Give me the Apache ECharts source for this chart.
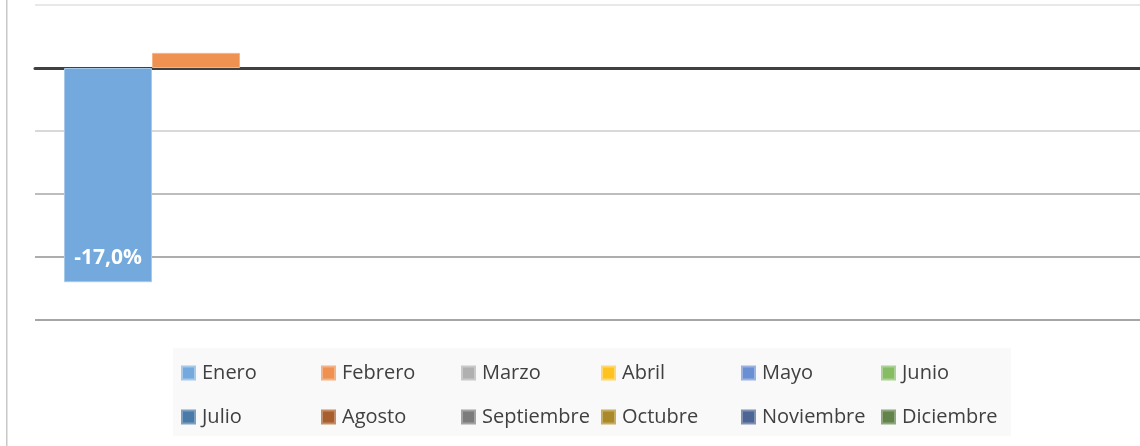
<!DOCTYPE html>
<html>
<head>
<meta charset="utf-8">
<script src="https://cdn.jsdelivr.net/npm/echarts@6/dist/echarts.min.js"></script>
<style>
  html, body { margin: 0; padding: 0; background: #fff; }
  #main { width: 1140px; height: 446px; }
</style>
</head>
<body>
<div id="main"></div>
<script>
// meses (una serie por mes, una sola categoría)
var meses = ['Enero','Febrero','Marzo','Abril','Mayo','Junio','Julio','Agosto','Septiembre','Octubre','Noviembre','Diciembre'];
var valores = [-17.0, 1.2, null, null, null, null, null, null, null, null, null, null];
var colores = ['#73a9dc','#ef9150','#b0b0b0','#ffc31f','#6a8fd3','#86bc63','#4a7aa8','#a85f2f','#7c7c7c','#a88a2a','#4c6594','#62844a'];
var bordes  = ['#a6c9ea','#f4b386','#c9c9c9','#ffd870','#9ab3e2','#acd196','#7f9fc0','#c48d68','#a3a3a3','#c5ad64','#8191b2','#8fa77f'];
var ticksY = { min: -20, max: 5, interval: 5 };

var myChart = echarts.init(document.getElementById('main'));

var series = meses.map(function (m, i) {
  return {
    name: m,
    type: 'bar',
    barWidth: 88,
    barGap: '0%',
    data: [valores[i]],
    itemStyle: { color: colores[i], borderColor: bordes[i], borderWidth: 1 },
    label: {
      show: i === 0,
      position: 'insideBottom',
      distance: 14,
      color: '#fff',
      fontWeight: 'bold',
      fontSize: 21,
      fontFamily: 'Open Sans',
      formatter: function (p) { return p.value.toFixed(1).replace('.', ',') + '%'; }
    }
  };
});

// una leyenda por mes: 6 columnas de 140 px, 2 filas
var leyendas = meses.map(function (m, i) {
  return {
    data: [m],
    left: 181 + (i % 6) * 140,
    top: i < 6 ? 363 : 407,
    padding: 0,
    itemWidth: 13,
    itemHeight: 13,
    icon: 'rect',
    textStyle: { fontSize: 20, color: '#404040', fontFamily: 'Open Sans', padding: [0, 0, 0, 2] }
  };
});

myChart.setOption({
  animation: false,
  graphic: [
    { type: 'rect', left: 6, top: 0, shape: { width: 1.5, height: 446 }, style: { fill: '#c8c8c8' }, z: 0 },
    { type: 'rect', left: 173, top: 348, shape: { width: 838, height: 88 }, style: { fill: '#f9f9f9' }, z: 0 }
  ],
  grid: { left: 35, top: 5, width: 1114, height: 315, outerBoundsMode: 'none' },
  legend: leyendas,
  xAxis: {
    type: 'category',
    data: [''],
    axisLine: { onZero: true, lineStyle: { color: '#404040', width: 3 } },
    axisTick: { show: false },
    axisLabel: { show: false }
  },
  yAxis: {
    type: 'value',
    min: ticksY.min,
    max: ticksY.max,
    interval: ticksY.interval,
    axisLabel: { show: false },
    axisLine: { show: false },
    axisTick: { show: false },
    splitLine: { lineStyle: { width: 2, color: ['#a6a6a6','#adadad','#bdbdbd','#d9d9d9','#404040','#e8e8e8'] } }
  },
  series: series
});
</script>
</body>
</html>
